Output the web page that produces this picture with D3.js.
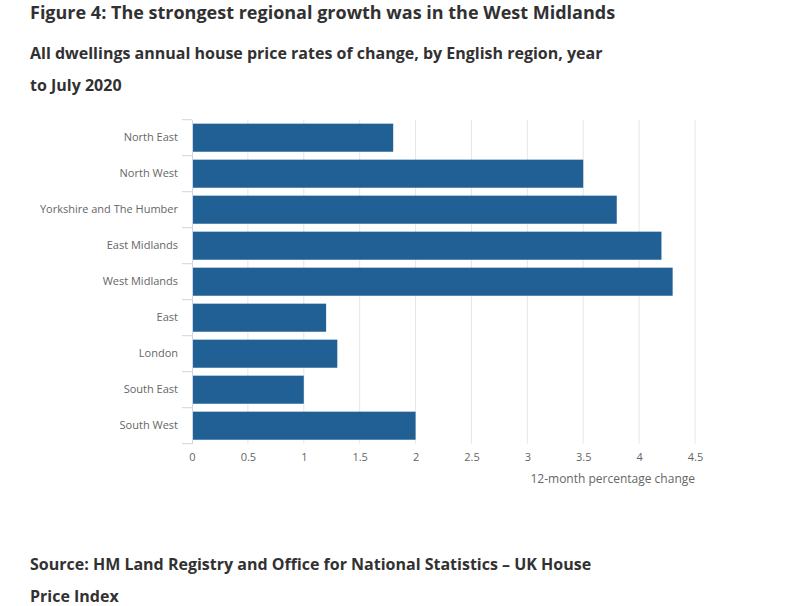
<!DOCTYPE html>
<html><head><meta charset="utf-8">
<script src="https://cdn.jsdelivr.net/npm/d3@7"></script>
<style>
body{margin:0;background:#fff;font-family:"Open Sans",sans-serif;}
svg text{font-family:"Open Sans",sans-serif;}
</style></head>
<body>
<svg id="chart" width="786" height="606"></svg>
<script>
const categories = ["North East","North West","Yorkshire and The Humber","East Midlands","West Midlands","East","London","South East","South West"];
const values = [1.8, 3.5, 3.8, 4.2, 4.3, 1.2, 1.3, 1.0, 2.0];
const xTicks = [0, 0.5, 1, 1.5, 2, 2.5, 3, 3.5, 4, 4.5];
const titleText = "Figure 4: The strongest regional growth was in the West Midlands";
const subtitleLines = ["All dwellings annual house price rates of change, by English region, year", "to July 2020"];
const sourceLines = ["Source: HM Land Registry and Office for National Statistics \u2013 UK House", "Price Index"];
const axisTitle = "12-month percentage change";

const svg = d3.select("#chart");
const pLeft = 192, pRight = 695, pTop = 119.7, pBottom = 443.7;

const x = d3.scaleLinear().domain([0, 4.5]).range([pLeft, pRight]);
const y = d3.scaleBand().domain(categories).range([pTop, pBottom]).paddingInner(0.22).paddingOuter(0.11);

// title
svg.append("text").attr("x", 30).attr("y", 19).attr("font-size", 18).attr("font-weight", 700)
  .attr("fill", "#323132").text(titleText);
subtitleLines.forEach((t, i) => svg.append("text").attr("x", 30).attr("y", 59 + i * 32)
  .attr("font-size", 16).attr("font-weight", 700).attr("fill", "#323132").text(t));
sourceLines.forEach((t, i) => svg.append("text").attr("x", 30).attr("y", 570 + i * 32)
  .attr("font-size", 16).attr("font-weight", 700).attr("fill", "#323132").text(t));

// gridlines
svg.append("g").selectAll("line").data(xTicks.slice(1)).join("line")
  .attr("x1", d => x(d)).attr("x2", d => x(d)).attr("y1", pTop).attr("y2", pBottom)
  .attr("stroke", "#e6e6e6").attr("stroke-width", 1);

// bars
svg.append("g").selectAll("rect").data(values).join("rect")
  .attr("x", x(0)).attr("y", (d, i) => y(categories[i]))
  .attr("width", d => x(d) - x(0)).attr("height", y.bandwidth())
  .attr("fill", "#206095");

// y axis
const yAxis = d3.axisLeft(y).tickSize(0).tickPadding(14);
const gy = svg.append("g").attr("transform", `translate(${pLeft},0)`).call(yAxis);
gy.select(".domain").attr("stroke", "#ccd6eb");
gy.selectAll("text").attr("font-size", 11).attr("fill", "#666").attr("font-family", "Open Sans");
// band boundary ticks
const bounds = categories.map(c => y(c) - y.step() * y.paddingInner() / 2);
bounds.push(pBottom);
bounds[0] = pTop;
svg.append("g").selectAll("line").data(bounds).join("line")
  .attr("x1", pLeft - 10).attr("x2", pLeft).attr("y1", d => d).attr("y2", d => d)
  .attr("stroke", "#ccd6eb");

// x axis
const xAxis = d3.axisBottom(x).tickValues(xTicks).tickSize(0).tickPadding(10)
  .tickFormat(d3.format("~g"));
const gx = svg.append("g").attr("transform", `translate(0,${pBottom})`).call(xAxis);
gx.select(".domain").remove();
gx.selectAll("text").attr("font-size", 11).attr("fill", "#666").attr("font-family", "Open Sans");

svg.append("text").attr("x", pRight).attr("y", 483).attr("text-anchor", "end")
  .attr("font-size", 12).attr("fill", "#666").text(axisTitle);
</script>
</body></html>
